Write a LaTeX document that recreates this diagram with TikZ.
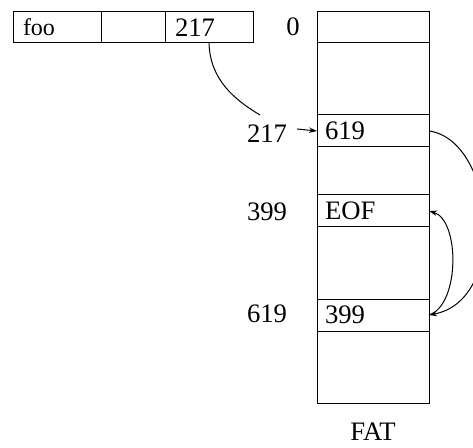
\documentclass[tikz,border=0pt]{standalone}
\usepackage{fontspec}
\setmainfont{Liberation Serif}
\usetikzlibrary{arrows.meta}
\tikzset{dircell/.style={draw=black,line width=0.75pt,rectangle,outer sep=0pt,inner xsep=7.5pt,align=left,minimum height=23.25pt}}
\tikzset{fatrow/.style={draw=black,line width=0.75pt,rectangle,outer sep=0pt,inner xsep=6pt,text width=72pt,align=left,font=\fontsize{20}{24}\selectfont}}
\tikzset{addr/.style={inner sep=0pt,font=\fontsize{20}{24}\selectfont}}
\tikzset{link/.style={line width=0.75pt,-{Stealth[length=6pt,width=4pt]}}}

\begin{document}
\begin{tikzpicture}[x=0.75pt,y=-0.75pt]
\useasboundingbox (0,0) rectangle (473,448);

% Directory entry: name, (unused), first block
\node[dircell, text width=51pt, font=\fontsize{18}{21}\selectfont] at (57,27.5) (name) {foo};
\node[dircell, text width=33pt] at (133,27.5) (mid) {};
\node[dircell, text width=51pt, font=\fontsize{20}{24}\selectfont] at (209,27.5) (first) {217};

% FAT rows, top to bottom
\node[fatrow, minimum height=23.25pt] at (373,27.5) (r0) {};
\node[fatrow, minimum height=54pt] at (373,79) (r1) {};
\node[fatrow, minimum height=24pt] at (373,131) (r2) {619};
\node[fatrow, minimum height=36pt] at (373,171) (r3) {};
\node[fatrow, minimum height=24pt] at (373,211) (r4) {EOF};
\node[fatrow, minimum height=54pt] at (373,263) (r5) {};
\node[fatrow, minimum height=24pt] at (373,315) (r6) {399};
\node[fatrow, minimum height=54pt] at (373,367) (r7) {};

% Row numbers and table name
\node[addr] at (293,27) (n0) {0};
\node[addr] at (267,134) (n217) {217};
\node[addr] at (267,212) (n399) {399};
\node[addr] at (267,314) (n619) {619};
\node[addr] at (373,432) (fat) {FAT};

% Pointer from the directory entry into the FAT
\coordinate (gap) at (260,115);
\coordinate (a217) at (297,129);
\draw[line width=0.75pt] (first.south) .. controls (210,80) and (235,100) .. (gap);
\draw[link] (a217) -- (r2.west);

% Chain 217 -> 619 -> 399
\draw[link] (r2.east) .. controls (495,140) and (510,300) .. (r6.east);
\draw[link] (r6.east) .. controls (460,305) and (460,220) .. (r4.east);

\end{tikzpicture}
\end{document}
